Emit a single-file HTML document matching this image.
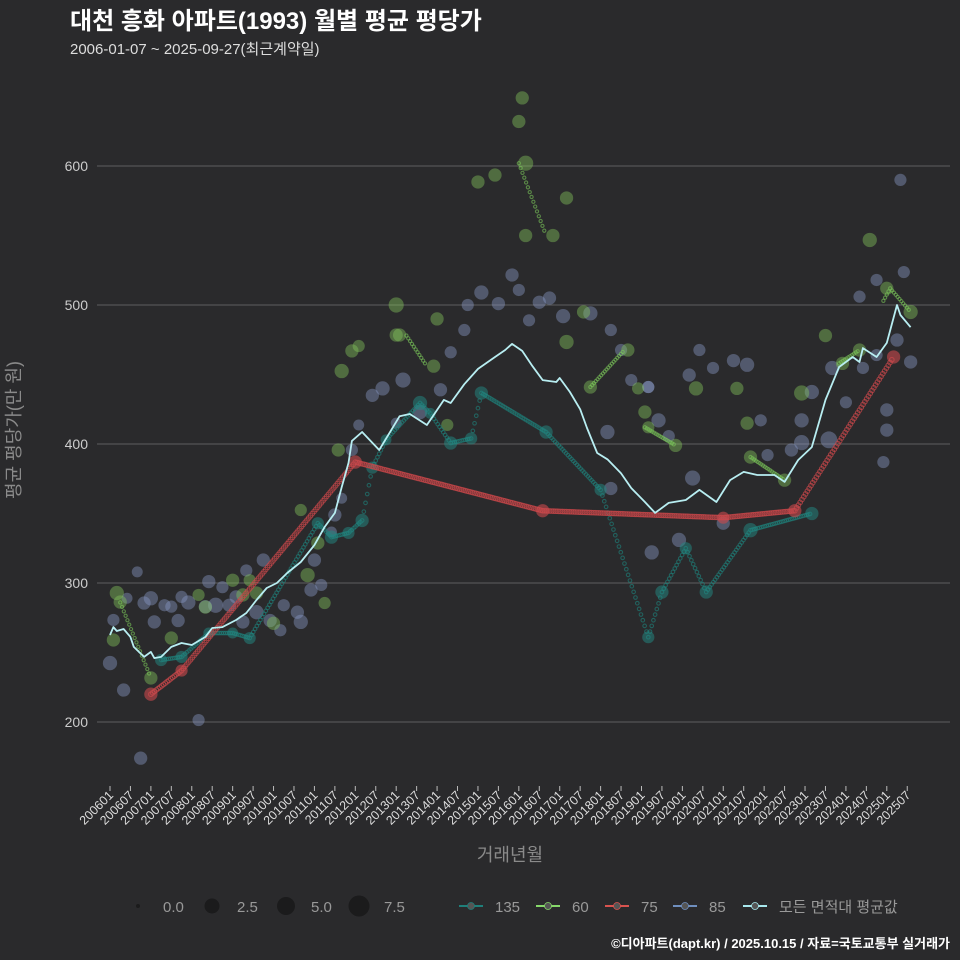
<!DOCTYPE html>
<html><head><meta charset="utf-8">
<style>
html,body{margin:0;padding:0;background:#2a2a2c;}
svg{display:block;font-family:"Liberation Sans","Noto Sans CJK KR",sans-serif;}
</style></head>
<body>
<svg id="chart" width="960" height="960" viewBox="0 0 960 960" xmlns="http://www.w3.org/2000/svg">
<rect width="960" height="960" fill="#2a2a2c"/>
<text x="70" y="29" fill="#ffffff" font-size="24" font-weight="bold" font-family="Liberation Sans, Noto Sans CJK KR, sans-serif">대천 흥화 아파트(1993) 월별 평균 평당가</text>
<text x="70" y="54" fill="#dddddd" font-size="15" font-family="Liberation Sans, Noto Sans CJK KR, sans-serif">2006-01-07 ~ 2025-09-27(최근계약일)</text>
<g id="grid"></g>
<g id="yaxis"></g>
<g id="xaxis"></g>
<g id="marks"></g>
<text transform="translate(20,430) rotate(-90)" text-anchor="middle" fill="#8a8a8a" font-size="18">평균 평당가(만 원)</text>
<text x="510" y="861" text-anchor="middle" fill="#8a8a8a" font-size="18">거래년월</text>
<g id="legend"></g>
<text x="950" y="948" text-anchor="end" fill="#ffffff" font-size="13" font-weight="bold">©디아파트(dapt.kr) / 2025.10.15 / 자료=국토교통부 실거래가</text>
</svg>
<script>
var yTicks=[200,300,400,500,600];
var xTickLabels=[];
for(var yy=2006;yy<=2025;yy++){xTickLabels.push(yy+"01");xTickLabels.push(yy+"07");}

var avgMonths=["200601","200602","200603","200605","200607","200608","200611","200701","200702","200704","200707","200710","200801","200805","200807","200810","200902","200905","200908","200911","201002","201005","201009","201101","201104","201107","201109","201111","201112","201203","201208","201302","201305","201310","201403","201405","201409","201501","201506","201509","201511","201602","201605","201608","201612","201701","201704","201707","201709","201712","201803","201807","201810","201902","201905","201909","202002","202006","202011","202103","202107","202111","202204","202207","202211","202303","202307","202311","202403","202405","202406","202410","202501","202504","202505","202508"];
var avgValues=[262.6,268.3,265.5,266.9,261.2,254,246.8,250.4,246,246.8,254,256.8,255.4,261.2,267.6,268.3,273.4,278.4,287.8,296.4,300,307.2,315.1,327.3,340.3,350.4,369,386.3,402.2,408.6,395.7,420,421.6,413.7,431.7,429.5,443,454,462.6,467.6,472,467,456,446,444.6,447.5,437.4,425,411.5,393.5,389,379,368.3,358.3,350.4,357.6,359.7,367,358.3,374,379.9,377.7,377.7,372.7,388.5,397.8,431.7,455.4,462.6,459,469,462.6,472.7,500,492.8,484];

var s135Months=["200704","200710","200806","200901","200906","201102","201106","201111","201203","201206","201210","201308","201311","201405","201411","201502","201609","201801","201903","201907","202002","202008","202109","202303"];
var s135Values=[244.6,246.8,264,264,260.4,343,333,336,345,383,403,429.5,422,400.7,404,436.7,408.6,367,261,293.5,325,293.5,338,350];
var s135Sizes=[4,4,3,3,4,4,5,4,5,4,3,6,3,5,4,5,5,4,4,5,4,5,6,5];

var s75Months=["200701","200710","201201","201608","202101","202210","202503"];
var s75Values=[220,237,387,352,347,352,462.6];
var s75Sizes=[5,4,5,5,4,5,5];

var s60Months=["200602","200603","200604","200701","200707","200803","200805","200901","200904","200908","201001","200906","201009","201011","201102","201104","201108","201109","201112","201202","201301","201302","201312","201301","201401","201404","201501","201506","201601","201602","201603","201611","201603","201703","201708","201703","201710","201809","201812","201902","201903","201911","202005","202105","202108","202109","202207","202212","202307","202312","202405","202408","202501","202508"];
var s60Values=[259,292.8,286.3,231.7,260.4,291.4,282.7,302,291.4,292.8,271,302,352.5,305.7,328.8,285.6,395.7,452.5,467,470.5,500,478.4,456,478.4,490,413.7,588.5,593.5,632,649,602,550,550,577,495,473.4,441,467.6,440,423,412,399,440,440,415,390.6,374,436.7,478,458,467.6,546.8,512,495];
var s60Sizes=[5,6,5,5,5,4,5,5,5,5,5,4,4,6,5,4,5,6,5,4,7,5,5,5,5,4,5,5,5,5,7,5,5,5,5,6,5,5,4,5,4,5,6,5,5,5,5,7,5,5,5,6,5,6];
var s60LineMonths=[["200604","200701"],["201304","201310"],["201601","201609"],["201710","201808"],["201902","201911"],["202109","202207"],["202311","202405"],["202412","202502","202508"]];
var s60LineValues=[[286,231.7],[478,456],[602,550],[441,467.6],[412,399],[390.6,374],[458,467.6],[503,512,495]];

var s85Months=["200602","200601","200605","200606","200609","200610","200611","200701","200702","200705","200707","200709","200710","200712","200803","200805","200806","200808","200810","200812","200902","200904","200905","200908","200910","200912","201003","201004","201008","201009","201012","201101","201103","201106","201107","201109","201112","201202","201206","201209","201301","201303","201308","201402","201405","201409","201410","201502","201507","201511","201601","201604","201607","201610","201702","201710","201804","201807","201810","201903","201906","201909","201903","202003","202006","202010","202104","202108","202112","202202","202209","202212","202303","202309","202401","202405","202406","202410","202410","202412","202501","202501","202504","202505","202506","202508","201904","201912","202004","202101","201804","201803","202308","202212"];
var s85Values=[273.4,242.4,223,289,308,174,285.6,289,272,284,283,273,290,286,201.4,283,301,284,297,284,290,272,309,279,316.5,273,266,284,279,272,295,316.5,298.6,336.7,349,361,395.7,413.7,435,440,415,446,423,439,466,482,500,509,501,521.6,510.8,489,502,505,492,494,482,467.6,446,441,417,405.7,441,449.6,467.6,454.7,460,457,417,392,395.7,417,437.4,454.7,430,506,454.7,464,518,387,410,424.5,474.8,590,523.7,459,322,331,375.5,343,368,408.6,403,401];
var s85Sizes=[4,6,5,3,3,5,5,6,5,4,4,5,4,6,4,5,5,7,4,5,5,5,4,6,5,5,4,4,5,6,5,5,4,3,5,3,4,3,5,6,3,7,6,5,4,4,4,6,5,5,4,4,5,5,6,6,4,4,4,4,6,4,4,5,4,4,5,6,4,4,5,6,6,6,4,4,4,4,4,4,5,5,5,4,4,5,6,6,7,5,5,6,9,7];

var sizeLegend=[0,2.5,5,7.5];

var NS="http://www.w3.org/2000/svg";
function mIdx(s){return (parseInt(s.slice(0,4))-2006)*12+parseInt(s.slice(4,6))-1;}
function xPos(s){return 110+mIdx(s)*3.407;}
function yPos(v){return 722-(v-200)*1.39;}
function rSize(s){return 1.5+2.3*Math.sqrt(s);}
function mk(tag,attrs,parent){var e=document.createElementNS(NS,tag);for(var k in attrs)e.setAttribute(k,attrs[k]);parent.appendChild(e);return e;}

var grid=document.getElementById('grid'),yax=document.getElementById('yaxis'),xax=document.getElementById('xaxis'),marks=document.getElementById('marks'),leg=document.getElementById('legend');
yTicks.forEach(function(t){
  var l=mk('line',{x1:97,x2:950,y1:yPos(t),y2:yPos(t),stroke:'#5f5f5f','stroke-width':1},grid);
  
  
  var tx=mk('text',{x:88,y:yPos(t)+5,'text-anchor':'end',fill:'#cccccc','font-size':14},yax);
  tx.textContent=t;
  
  
});
xTickLabels.forEach(function(lb){
  var x=xPos(lb);
  var tk=mk('line',{x1:x,x2:x,y1:786,y2:791,stroke:'#bbbbbb','stroke-width':1},xax);
  
  
  var tx=mk('text',{transform:'translate('+(x+4)+',796) rotate(-45)','text-anchor':'end',fill:'#dddddd','font-size':12.5},xax);
  tx.textContent=lb;
  
  
});

function dotted(months,values,color,r,op,name){
  var g=mk('g',{},marks);
  
  
  for(var i=0;i<months.length-1;i++){
    var x0=xPos(months[i]),y0=yPos(values[i]),x1=xPos(months[i+1]),y1=yPos(values[i+1]);
    var n=Math.max(1,Math.round(Math.abs(x1-x0)/1.8));
    for(var k=0;k<n;k++){var t=k/n;mk('circle',{cx:x0+(x1-x0)*t,cy:y0+(y1-y0)*t,r:r,fill:'none',stroke:color,'stroke-width':1.1,'stroke-opacity':op},g);}
  }
}
function bubbles(months,values,sizes,color,op,name){
  var g=mk('g',{},marks);
  
  
  for(var i=0;i<months.length;i++){
    var c=mk('circle',{cx:xPos(months[i]),cy:yPos(values[i]),r:rSize(sizes[i]),fill:color,'fill-opacity':op},g);
    
    
  }
}
bubbles(s85Months,s85Values,s85Sizes,'#8a9bc9',0.42,'series-85-points');
bubbles(s60Months,s60Values,s60Sizes,'#86c95e',0.42,'series-60-points');
for(var j=0;j<s60LineMonths.length;j++)dotted(s60LineMonths[j],s60LineValues[j],'#7cc85a',1.6,0.6,'series-60-line');
dotted(s135Months,s135Values,'#1f7f7a',1.8,0.65,'series-135-line');
bubbles(s135Months,s135Values,s135Sizes,'#218a84',0.5,'series-135-points');
dotted(s75Months,s75Values,'#c9474a',2.3,0.7,'series-75-line');
bubbles(s75Months,s75Values,s75Sizes,'#cc4a4d',0.6,'series-75-points');
var pd='';for(var i=0;i<avgMonths.length;i++){pd+=(i?'L':'M')+xPos(avgMonths[i]).toFixed(1)+','+yPos(avgValues[i]).toFixed(1);}
var avg=mk('path',{d:pd,fill:'none',stroke:'#b8eef2','stroke-width':1.8,'stroke-linejoin':'round'},marks);



var sx=[138,212,286,359];
sizeLegend.forEach(function(s,i){
  var c=mk('circle',{cx:sx[i],cy:906,r:(s===0?2:[0,7.5,9,10.5][i]),fill:'#1b1b1c'},leg);
  
  
  var t=mk('text',{x:sx[i]+25,y:912,fill:'#999999','font-size':15},leg);
  t.textContent=s.toFixed(1);
  
  
});
var series=[['135','#1f7f7a',459],['60','#86d86a',536],['75','#d9534f',605],['85','#6f8fbf',673],['모든 면적대 평균값','#a8e8ee',743]];
series.forEach(function(s){
  var g=mk('g',{},leg);
  
  
  mk('line',{x1:s[2],x2:s[2]+24,y1:906,y2:906,stroke:s[1],'stroke-width':2},g);
  mk('circle',{cx:s[2]+12,cy:906,r:3.5,fill:'#555',stroke:s[1],'stroke-width':0.8},g);
  var t=mk('text',{x:s[2]+36,y:912,fill:'#999999','font-size':15},g);
  t.textContent=s[0];
});
</script>
</body></html>
